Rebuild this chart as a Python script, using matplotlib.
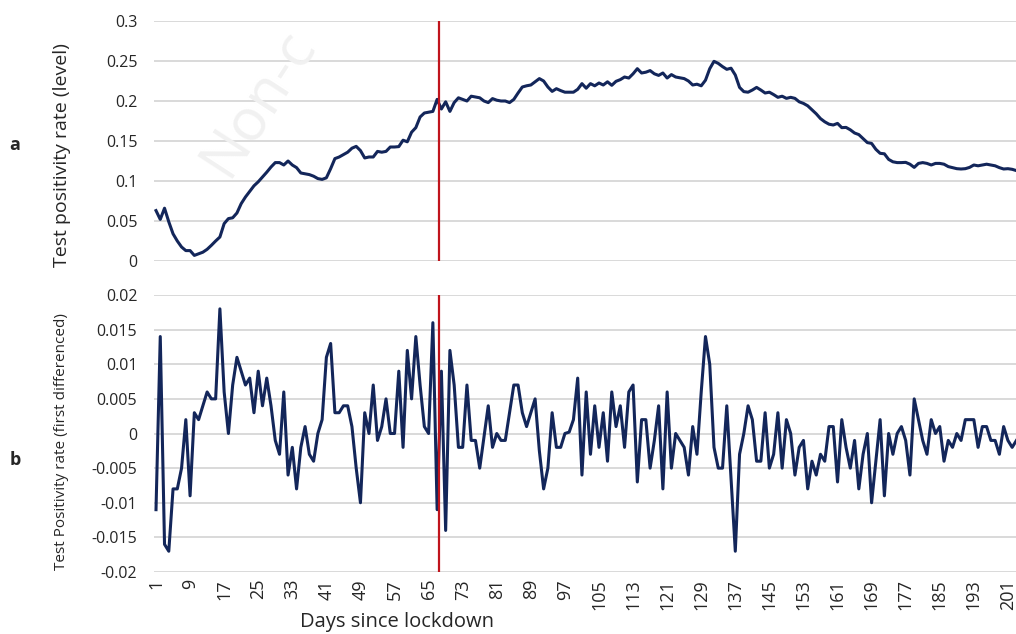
import matplotlib
matplotlib.use("Agg")
import matplotlib.pyplot as plt

plt.rcParams['font.family'] = ['Open Sans', 'DejaVu Sans']

# -------------------------------
# Data
# -------------------------------
# test positivity rate (level), days 1..203
level = [
    0.063, 0.052, 0.066, 0.049, 0.034, 0.025, 0.0175, 0.013, 0.013, 0.007,
    0.009, 0.011, 0.0146, 0.0196, 0.025, 0.030, 0.0467, 0.053, 0.054, 0.060,
    0.0717, 0.080, 0.087, 0.094, 0.099, 0.105, 0.111, 0.1175, 0.123, 0.123,
    0.120, 0.125, 0.120, 0.1167, 0.110, 0.109, 0.108, 0.106, 0.103, 0.102,
    0.104, 0.1154, 0.128, 0.130, 0.133, 0.136, 0.141, 0.1433, 0.138, 0.1288,
    0.130, 0.130, 0.137, 0.136, 0.137, 0.1425, 0.1425, 0.143, 0.151, 0.149,
    0.161, 0.1667, 0.180, 0.185, 0.186, 0.187, 0.202,
    0.190, 0.199, 0.187, 0.198, 0.204, 0.202, 0.200, 0.206, 0.205, 0.204,
    0.200, 0.198, 0.203, 0.201, 0.200, 0.200, 0.198, 0.202, 0.210, 0.2175,
    0.219, 0.220, 0.224, 0.228, 0.225, 0.2175, 0.212, 0.2154, 0.213, 0.211,
    0.211, 0.211, 0.2146, 0.2217, 0.216, 0.2217, 0.219, 0.2225, 0.220, 0.224,
    0.2196, 0.2246, 0.2267, 0.230, 0.2287, 0.234, 0.2404, 0.235, 0.236, 0.238,
    0.234, 0.232, 0.235, 0.2287, 0.233, 0.230, 0.229, 0.228, 0.225, 0.220,
    0.221, 0.219, 0.226, 0.2404, 0.2496,
    0.247, 0.243, 0.2396, 0.241, 0.2325, 0.217, 0.2117, 0.211, 0.2137, 0.217,
    0.2137, 0.210, 0.211, 0.208, 0.2046, 0.206, 0.2033, 0.2046, 0.2033, 0.199,
    0.197, 0.194, 0.189, 0.184, 0.178, 0.174, 0.171, 0.170, 0.172, 0.1667,
    0.167, 0.164, 0.160, 0.158, 0.153, 0.148, 0.147, 0.1396, 0.1346, 0.134,
    0.127, 0.124, 0.123, 0.123, 0.1233, 0.121, 0.117, 0.122, 0.123, 0.122,
    0.120, 0.122, 0.122, 0.121, 0.118, 0.1167, 0.1154, 0.115, 0.1154, 0.117,
    0.120, 0.119, 0.120, 0.121, 0.120, 0.119, 0.1167, 0.115, 0.1154, 0.1146, 0.113,
]

# first differenced series, days 1..203
diff = [
    -0.011, 0.014, -0.016, -0.017, -0.008, -0.008, -0.005, 0.002, -0.009, 0.003,
    0.002, 0.004, 0.006, 0.005, 0.005, 0.018, 0.006, 0.000, 0.007, 0.011,
    0.009, 0.007, 0.008, 0.003, 0.009, 0.004, 0.008, 0.004, -0.001, -0.003,
    0.006, -0.006, -0.002, -0.008, -0.002, 0.001, -0.003, -0.004, 0.000, 0.002,
    0.011, 0.013, 0.003, 0.003, 0.004, 0.004, 0.001, -0.005, -0.010, 0.003,
    0.000, 0.007, -0.001, 0.001, 0.005, 0.000, 0.000, 0.009, -0.002, 0.012,
    0.005, 0.014, 0.007, 0.001, 0.000, 0.016, -0.011, 0.009, -0.014, 0.012,
    0.007, -0.002, -0.002, 0.007, -0.001, -0.001, -0.005, -0.0005, 0.004, -0.002,
    0.000, -0.001, -0.001, 0.003, 0.007, 0.007, 0.003, 0.001, 0.003, 0.005,
    -0.0025, -0.008, -0.005, 0.003, -0.002, -0.002, 0.000, 0.0002, 0.002, 0.008,
    -0.006, 0.006, -0.003, 0.004, -0.002, 0.003, -0.004, 0.006, 0.001, 0.004,
    -0.002, 0.006, 0.007, -0.007, 0.002, 0.002, -0.005, -0.001, 0.004, -0.008,
    0.006, -0.005, 0.000, -0.001, -0.002, -0.006, 0.001, -0.003, 0.006, 0.014,
    0.010, -0.002, -0.005, -0.005, 0.004, -0.0065, -0.017, -0.003, 0.000, 0.004,
    0.002, -0.004, -0.004, 0.003, -0.005, -0.003, 0.003, -0.005, 0.002, 0.000,
    -0.006, -0.002, -0.001, -0.008, -0.004, -0.006, -0.003, -0.004, 0.001, 0.001,
    -0.007, 0.002, -0.002, -0.005, -0.001, -0.008, -0.003, 0.000, -0.010, -0.004,
    0.002, -0.009, 0.000, -0.003, 0.000, 0.001, -0.001, -0.006, 0.005, 0.002,
    -0.001, -0.003, 0.002, 0.000, 0.001, -0.004, -0.001, -0.002, 0.000, -0.001,
    0.002, 0.002, 0.002, -0.002, 0.001, 0.001, -0.001, -0.001, -0.003, 0.001,
    -0.001, -0.002, -0.001,
]

days = list(range(1, len(level) + 1))
xtick_days = list(range(1, 202, 8))
lockdown_break = 67.5

top_ticks = [0, 0.05, 0.1, 0.15, 0.2, 0.25, 0.3]
top_labels = ['0', '0.05', '0.1', '0.15', '0.2', '0.25', '0.3']
bot_ticks = [-0.02, -0.015, -0.01, -0.005, 0, 0.005, 0.01, 0.015, 0.02]
bot_labels = ['-0.02', '-0.015', '-0.01', '-0.005', '0', '0.005', '0.01', '0.015', '0.02']

# -------------------------------
# Plot
# -------------------------------
W, H = 1016, 634
line_col = '#13265a'
red_col = '#c0141c'
grid_col = '#d9d9d9'
txt_col = '#262626'

fig = plt.figure(figsize=(W / 100, H / 100), dpi=100)

# faint watermark
fig.text(190 / W, 1 - 186 / H, 'Non-c', rotation=57, fontsize=42,
         color='#f1f1f1', ha='left', va='bottom', zorder=0)

x_left = 154 / W
ax1 = fig.add_axes([x_left, 1 - 261 / H, 1 - x_left, 240 / H])
ax2 = fig.add_axes([x_left, 1 - 572 / H, 1 - x_left, 277 / H])
for ax in (ax1, ax2):
    ax.patch.set_alpha(0)
    for s in ax.spines.values():
        s.set_visible(False)
    ax.set_xlim(0.53, 202.9)
    ax.tick_params(axis='both', length=0, labelsize=11.5, colors=txt_col)
    ax.tick_params(axis='y', pad=12)
    ax.grid(axis='y', color=grid_col, linewidth=1.4)
    ax.set_axisbelow(True)

ax1.plot(days, level, color=line_col, linewidth=2.2, zorder=3)
ax1.axvline(lockdown_break, color=red_col, linewidth=1.6, zorder=4)
ax1.set_ylim(0, 0.3)
ax1.set_yticks(top_ticks)
ax1.set_yticklabels(top_labels)
ax1.set_xticks([])

ax2.plot(days, diff, color=line_col, linewidth=2.2, zorder=3)
ax2.axvline(lockdown_break, color=red_col, linewidth=1.6, zorder=4)
ax2.set_ylim(-0.02, 0.02)
ax2.set_yticks(bot_ticks)
ax2.set_yticklabels(bot_labels)
ax2.set_xticks(xtick_days)
ax2.set_xticklabels([str(d) for d in xtick_days], rotation=90, fontsize=13)
ax2.tick_params(axis='x', pad=5)

fig.text(62 / W, 1 - 155 / H, 'Test positivity rate (level)', rotation=90,
         fontsize=14, ha='center', va='center', color=txt_col)
fig.text(62 / W, 1 - 442 / H, 'Test Positivity rate (first differenced)', rotation=90,
         fontsize=11, ha='center', va='center', color=txt_col)
fig.text(15 / W, 1 - 145 / H, 'a', fontsize=13, fontweight='bold',
         ha='center', va='center', color=txt_col)
fig.text(15 / W, 1 - 460 / H, 'b', fontsize=13, fontweight='bold',
         ha='center', va='center', color=txt_col)
fig.text(397 / W, 1 - 612 / H, 'Days since lockdown', fontsize=14.5,
         ha='center', va='top', color=txt_col)

fig.savefig('out.png', dpi=100)
